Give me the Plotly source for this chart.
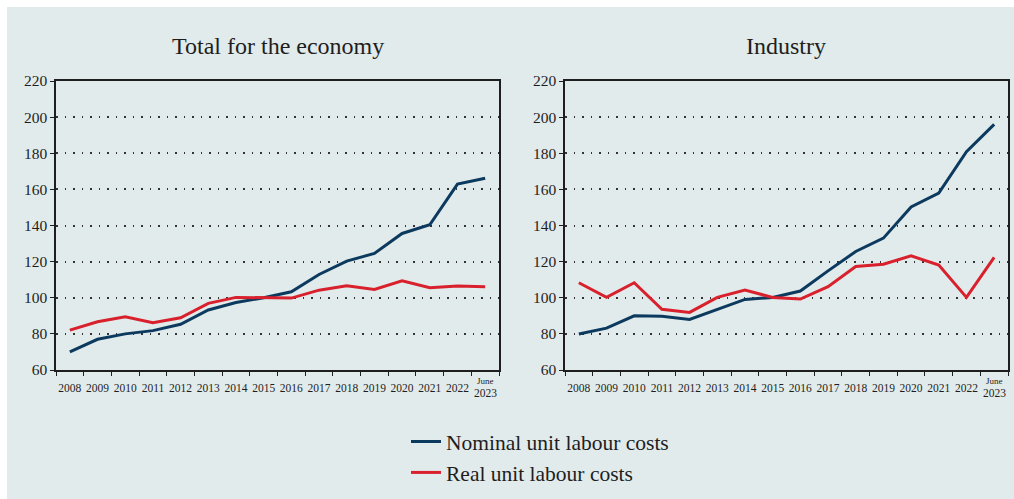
import plotly.graph_objects as go

categories = ["2008", "2009", "2010", "2011", "2012", "2013", "2014", "2015",
              "2016", "2017", "2018", "2019", "2020", "2021", "2022", "June 2023"]
tick_labels = ["2008", "2009", "2010", "2011", "2012", "2013", "2014", "2015",
               "2016", "2017", "2018", "2019", "2020", "2021", "2022", ""]

total_nominal = [70.0, 77.0, 80.0, 81.8, 85.3, 93.2, 97.4, 100.0,
                 103.3, 112.9, 120.3, 124.5, 135.6, 140.4, 162.9, 166.2]
total_real = [82.1, 86.7, 89.5, 86.2, 88.9, 96.9, 100.2, 100.0,
              99.8, 104.2, 106.6, 104.6, 109.4, 105.5, 106.5, 106.1]
industry_nominal = [79.9, 83.2, 90.0, 89.8, 88.0, 93.4, 99.1, 100.2,
                    103.7, 114.9, 125.6, 133.0, 150.3, 157.9, 180.9, 196.0]
industry_real = [108.3, 100.2, 108.3, 93.6, 91.9, 100.2, 104.2, 100.2,
                 99.3, 106.1, 117.3, 118.6, 123.2, 118.1, 100.2, 122.3]

titles = ["Total for the economy", "Industry"]
series_names = ["Nominal unit labour costs", "Real unit labour costs"]

W, H = 1014, 499
BG = "#e2ebeb"
BLUE = "#0c3a5f"
RED = "#d8212d"
FONT = "Liberation Serif"
INK = "#1e1e1e"

def px_x(p):
    return p / W

def px_y(p):
    return (H - p) / H

fig = go.Figure()

fig.add_trace(go.Scatter(x=categories, y=total_nominal, mode="lines", name=series_names[0],
                         line=dict(color=BLUE, width=3), xaxis="x", yaxis="y"))
fig.add_trace(go.Scatter(x=categories, y=total_real, mode="lines", name=series_names[1],
                         line=dict(color=RED, width=3), xaxis="x", yaxis="y"))
fig.add_trace(go.Scatter(x=categories, y=industry_nominal, mode="lines", name=series_names[0],
                         line=dict(color=BLUE, width=3), xaxis="x2", yaxis="y2", showlegend=False))
fig.add_trace(go.Scatter(x=categories, y=industry_real, mode="lines", name=series_names[1],
                         line=dict(color=RED, width=3), xaxis="x2", yaxis="y2", showlegend=False))

y_dom = [px_y(370), px_y(81)]
x_doms = [[px_x(56), px_x(499)], [px_x(565), px_x(1008)]]

xcommon = dict(type="category", categoryorder="array", categoryarray=categories,
               range=[-0.5, len(categories) - 0.5],
               tickvals=categories, ticktext=tick_labels, tickson="boundaries",
               ticks="outside", ticklen=4, tickwidth=1.2, tickcolor=INK, tickangle=0,
               ticklabelstandoff=6,
               showline=True, linecolor=INK, linewidth=1.5, mirror=True,
               showgrid=False, tickfont=dict(family=FONT, size=11.5, color=INK),
               automargin=False, fixedrange=True)
ycommon = dict(range=[60, 220], dtick=20, tick0=60, ticks="outside", ticklen=4,
               tickwidth=1.2, tickcolor=INK, showline=True, linecolor=INK,
               linewidth=1.5, mirror=True, showgrid=True, gridcolor="#333333",
               gridwidth=1.5, griddash="1.5px,7px", zeroline=False,
               tickfont=dict(family=FONT, size=15.5, color=INK),
               automargin=False, fixedrange=True)

fig.update_layout(
    width=W, height=H,
    margin=dict(l=0, r=0, t=0, b=0, autoexpand=False),
    paper_bgcolor=BG, plot_bgcolor=BG,
    font=dict(family=FONT, color=INK),
    xaxis=dict(domain=x_doms[0], anchor="y", **xcommon),
    yaxis=dict(domain=y_dom, anchor="x", **ycommon),
    xaxis2=dict(domain=x_doms[1], anchor="y2", **xcommon),
    yaxis2=dict(domain=y_dom, anchor="x2", **ycommon),
    showlegend=True,
    legend=dict(x=px_x(406), y=px_y(421), xanchor="left", yanchor="top",
                bgcolor="rgba(0,0,0,0)", font=dict(family=FONT, size=21.5, color=INK),
                tracegroupgap=0),
    shapes=[
        dict(type="rect", xref="paper", yref="paper", x0=0, x1=px_x(7), y0=0, y1=1,
             fillcolor="white", line=dict(width=0), layer="below"),
        dict(type="rect", xref="paper", yref="paper", x0=0, x1=1, y0=px_y(7), y1=1,
             fillcolor="white", line=dict(width=0), layer="below"),
    ],
)

annotations = []
for i, t in enumerate(titles):
    cx = (x_doms[i][0] + x_doms[i][1]) / 2
    annotations.append(dict(text=t, x=cx, y=px_y(46), xref="paper", yref="paper",
                            xanchor="center", yanchor="middle", showarrow=False,
                            font=dict(family=FONT, size=24, color=INK)))
for xa in ["x", "x2"]:
    annotations.append(dict(text="June", x=categories[-1], y=px_y(381), xref=xa, yref="paper",
                            xanchor="center", yanchor="middle", showarrow=False,
                            font=dict(family=FONT, size=9, color=INK)))
    annotations.append(dict(text="2023", x=categories[-1], y=px_y(393), xref=xa, yref="paper",
                            xanchor="center", yanchor="middle", showarrow=False,
                            font=dict(family=FONT, size=11.5, color=INK)))
fig.update_layout(annotations=annotations)

fig.write_html("out.html", config={"displayModeBar": False},
               post_script="document.body.style.margin='0';document.body.style.overflow='hidden';")
